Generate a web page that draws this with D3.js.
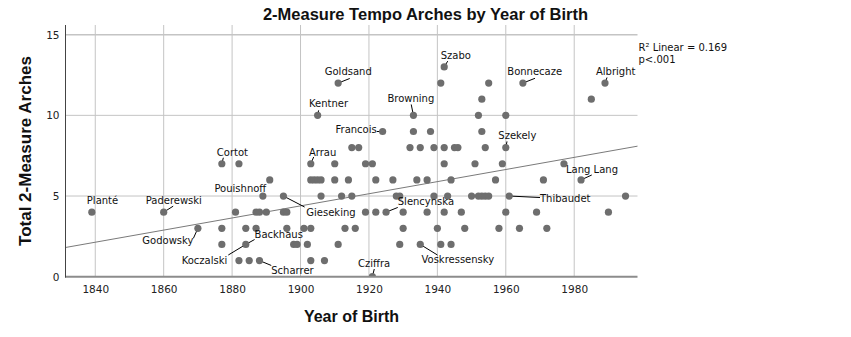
<!DOCTYPE html>
<html>
<head>
<meta charset="utf-8">
<script src="https://cdn.jsdelivr.net/npm/d3@7/dist/d3.min.js"></script>
<style>
  html, body { margin: 0; padding: 0; background: #fff; }
  svg { display: block; font-family: "DejaVu Sans", sans-serif; }
</style>
</head>
<body>
<svg id="chart" width="851" height="337"></svg>
<script>
// Pianists: year of birth vs. total number of 2-measure tempo arches
const birthYears = [
  1921,
  1882, 1885, 1888, 1903, 1907,
  1877, 1884, 1898, 1899, 1902, 1911, 1929, 1935, 1941, 1944,
  1870, 1877, 1884, 1887, 1896, 1901, 1903, 1913, 1916, 1930, 1940, 1948, 1958, 1964, 1972,
  1839, 1860, 1881, 1887, 1888, 1890, 1895, 1896, 1919, 1922, 1925, 1930, 1937, 1942, 1947, 1960, 1969, 1990,
  1889, 1895, 1906, 1912, 1915, 1928, 1929, 1939, 1943, 1950, 1952, 1953, 1954, 1955, 1961, 1995,
  1891, 1903, 1904, 1905, 1906, 1910, 1914, 1922, 1927, 1934, 1937, 1944, 1957, 1971, 1982,
  1877, 1882, 1903, 1910, 1919, 1921, 1942, 1951, 1959, 1977,
  1915, 1917, 1932, 1935, 1939, 1942, 1945, 1946, 1954, 1960,
  1924, 1933, 1938, 1953,
  1905, 1933, 1952, 1960,
  1953, 1985,
  1911, 1941, 1955, 1965, 1989,
  1942
];
const totalArches = [
  0,
  1, 1, 1, 1, 1,
  2, 2, 2, 2, 2, 2, 2, 2, 2, 2,
  3, 3, 3, 3, 3, 3, 3, 3, 3, 3, 3, 3, 3, 3, 3,
  4, 4, 4, 4, 4, 4, 4, 4, 4, 4, 4, 4, 4, 4, 4, 4, 4, 4,
  5, 5, 5, 5, 5, 5, 5, 5, 5, 5, 5, 5, 5, 5, 5, 5,
  6, 6, 6, 6, 6, 6, 6, 6, 6, 6, 6, 6, 6, 6, 6,
  7, 7, 7, 7, 7, 7, 7, 7, 7, 7,
  8, 8, 8, 8, 8, 8, 8, 8, 8, 8,
  9, 9, 9, 9,
  10, 10, 10, 10,
  11, 11,
  12, 12, 12, 12, 12,
  13
];

// Named pianists
const labelNames  = ["Planté", "Paderewski", "Cortot", "Pouishnoff", "Godowsky", "Koczalski", "Backhaus",
                     "Scharrer", "Gieseking", "Arrau", "Kentner", "Goldsand", "Francois", "Browning",
                     "Szabo", "Slencynska", "Cziffra", "Voskressensky", "Szekely", "Thibaudet",
                     "Bonnecaze", "Albright", "Lang Lang"];
const labelYears  = [1839, 1860, 1877, 1891, 1870, 1884, 1884, 1888, 1895, 1903, 1905, 1911, 1924, 1933,
                     1942, 1925, 1921, 1935, 1960, 1961, 1965, 1989, 1982];
const labelArches = [4, 4, 7, 6, 3, 2, 2, 1, 5, 7, 10, 12, 9, 10, 13, 4, 0, 2, 8, 5, 12, 12, 6];

// Linear fit line, drawn across the full year range
const fitYears  = [1831.3, 1998.5];
const fitArches = [1.81, 8.09];

const xTicks = [1840, 1860, 1880, 1900, 1920, 1940, 1960, 1980];
const yTicks = [0, 5, 10, 15];
const fitNote = ["R\u00B2 Linear = 0.169", "p<.001"];

// Label placement relative to its point: text anchor (tx, ty), text-anchor, leader end (lx, ly)
const labelPlacement = {
  "Planté":        { tx: -5,   ty: -8,   anchor: "start" },
  "Paderewski":    { tx: -18,  ty: -8,   anchor: "start", lx: 9.5,  ly: -6 },
  "Cortot":        { tx: -5,   ty: -8,   anchor: "start", lx: 1.5,  ly: -6 },
  "Pouishnoff":    { tx: -3.5, ty: 11.8, anchor: "end" },
  "Godowsky":      { tx: -4.5, ty: 15.7, anchor: "end",   lx: -4.5, ly: 10 },
  "Koczalski":     { tx: -18.5,ty: 19.6, anchor: "end",   lx: -17.5,ly: 10.6 },
  "Backhaus":      { tx: 8.8,  ty: -6.1, anchor: "start", lx: 8.8,  ly: -4.9 },
  "Scharrer":      { tx: 11.8, ty: 13.7, anchor: "start", lx: 11.8, ly: 4.9 },
  "Gieseking":     { tx: 22.9, ty: 20,   anchor: "start", lx: 21.2, ly: 11 },
  "Arrau":         { tx: -1.8, ty: -8.1, anchor: "start", lx: 2.9,  ly: -6.8 },
  "Kentner":       { tx: -8.6, ty: -8.1, anchor: "start", lx: 1,    ly: -5 },
  "Goldsand":      { tx: -13.4,ty: -8.1, anchor: "start", lx: 11.6, ly: -4.6 },
  "Francois":      { tx: -5.9, ty: 1.8,  anchor: "end",   lx: -5.9, ly: 0 },
  "Browning":      { tx: -26,  ty: -13.7,anchor: "start", lx: -2.2, ly: -10.9 },
  "Szabo":         { tx: -3.5, ty: -7.7, anchor: "start", lx: 3.5,  ly: -5.8 },
  "Slencynska":    { tx: 11.7, ty: -7.2, anchor: "start", lx: 11.7, ly: -4.7 },
  "Cziffra":       { tx: -14.3,ty: -10,  anchor: "start", lx: 1.9,  ly: -7.7 },
  "Voskressensky": { tx: 1.2,  ty: 18.9, anchor: "start", lx: 17.2, ly: 10.6 },
  "Szekely":       { tx: -7.5, ty: -8.4, anchor: "start", lx: 1.2,  ly: -6.2 },
  "Thibaudet":     { tx: 30.8, ty: 5.7,  anchor: "start", lx: 30.8, ly: 1.5 },
  "Bonnecaze":     { tx: -15.6,ty: -8.1, anchor: "start", lx: 12.1, ly: -4.8 },
  "Albright":      { tx: -9,   ty: -8.1, anchor: "start", lx: 2,    ly: -5.6 },
  "Lang Lang":     { tx: -15,  ty: -6.6, anchor: "start", lx: 10.7, ly: -4.9 }
};

const svg = d3.select("#chart");
const plot = { left: 65.5, right: 637.5, top: 25, bottom: 276.7 };

const x = d3.scaleLinear().domain([1831.3, 1998.5]).range([plot.left, plot.right]);
const y = d3.scaleLinear().domain([0, 15.6]).range([plot.bottom, plot.top]);

svg.append("defs").append("clipPath").attr("id", "plotClip")
  .append("rect")
  .attr("x", plot.left).attr("y", plot.top)
  .attr("width", plot.right - plot.left).attr("height", plot.bottom - plot.top);

// Gridlines
const grid = svg.append("g");
grid.selectAll("line.vgrid").data(xTicks).join("line")
  .attr("x1", d => x(d)).attr("x2", d => x(d))
  .attr("y1", plot.top).attr("y2", plot.bottom)
  .attr("stroke", "#c4c4c4").attr("stroke-width", 1);
grid.selectAll("line.hgrid").data(yTicks.filter(d => d > 0)).join("line")
  .attr("x1", plot.left).attr("x2", plot.right)
  .attr("y1", d => y(d)).attr("y2", d => y(d))
  .attr("stroke", "#c4c4c4").attr("stroke-width", d => d === 15 ? 1.6 : 1);

// Axes (labels only, no tick marks)
const xAxis = svg.append("g").attr("transform", `translate(0,${plot.bottom})`)
  .call(d3.axisBottom(x).tickValues(xTicks).tickFormat(d3.format("d")).tickSize(0).tickPadding(9));
xAxis.select(".domain").remove();
xAxis.selectAll("text").style("font-size", "10.5px").style("font-family", "DejaVu Sans, sans-serif")
  .attr("fill", "#222");

const yAxis = svg.append("g").attr("transform", `translate(${plot.left},0)`)
  .call(d3.axisLeft(y).tickValues(yTicks).tickFormat(d3.format("d")).tickSize(0).tickPadding(6));
yAxis.select(".domain").remove();
yAxis.selectAll("text").style("font-size", "10.5px").style("font-family", "DejaVu Sans, sans-serif")
  .attr("fill", "#222");

// Linear fit
svg.append("line")
  .attr("x1", x(fitYears[0])).attr("y1", y(fitArches[0]))
  .attr("x2", x(fitYears[1])).attr("y2", y(fitArches[1]))
  .attr("stroke", "#7a7a7a").attr("stroke-width", 1);

// Leader lines
const labels = labelNames.map((name, i) => ({ name, year: labelYears[i], value: labelArches[i], ...labelPlacement[name] }));
svg.append("g").selectAll("line").data(labels.filter(d => d.lx !== undefined)).join("line")
  .attr("x1", d => x(d.year)).attr("y1", d => y(d.value))
  .attr("x2", d => x(d.year) + d.lx).attr("y2", d => y(d.value) + d.ly)
  .attr("stroke", "#000").attr("stroke-width", 1);

// Points
svg.append("g").attr("clip-path", "url(#plotClip)")
  .selectAll("circle").data(birthYears.map((yr, i) => ({ yr, v: totalArches[i] }))).join("circle")
  .attr("cx", d => x(d.yr)).attr("cy", d => y(d.v)).attr("r", 3.6)
  .attr("fill", "#6e6e6e");

// Axis lines
svg.append("line").attr("x1", plot.left).attr("x2", plot.right)
  .attr("y1", plot.bottom).attr("y2", plot.bottom)
  .attr("stroke", "#8c8c8c").attr("stroke-width", 2);
svg.append("line").attr("x1", plot.left).attr("x2", plot.left)
  .attr("y1", plot.top).attr("y2", plot.bottom + 1)
  .attr("stroke", "#444").attr("stroke-width", 1);

// Point labels
svg.append("g").selectAll("text").data(labels).join("text")
  .attr("x", d => x(d.year) + d.tx).attr("y", d => y(d.value) + d.ty)
  .attr("text-anchor", d => d.anchor)
  .style("font-size", "10px").attr("fill", "#111")
  .text(d => d.name);

// Fit note
svg.append("g").selectAll("text").data(fitNote).join("text")
  .attr("x", 638.5).attr("y", (d, i) => 51 + i * 11.5)
  .style("font-size", "10px").attr("fill", "#111")
  .text(d => d);

// Titles
const titleFont = "'Liberation Sans', Arial, sans-serif";
svg.append("text").attr("x", 425.5).attr("y", 20).attr("text-anchor", "middle")
  .style("font-family", titleFont).style("font-weight", "bold")
  .style("font-size", "16.5px").attr("fill", "#111")
  .text("2-Measure Tempo Arches by Year of Birth");
svg.append("text").attr("x", (plot.left + plot.right) / 2).attr("y", 321.5).attr("text-anchor", "middle")
  .style("font-family", titleFont).style("font-weight", "bold")
  .style("font-size", "16px").attr("fill", "#111")
  .text("Year of Birth");
svg.append("text").attr("transform", "translate(31,151) rotate(-90)").attr("text-anchor", "middle")
  .style("font-family", titleFont).style("font-weight", "bold")
  .style("font-size", "17px").attr("fill", "#111")
  .text("Total 2-Measure Arches");
</script>
</body>
</html>
